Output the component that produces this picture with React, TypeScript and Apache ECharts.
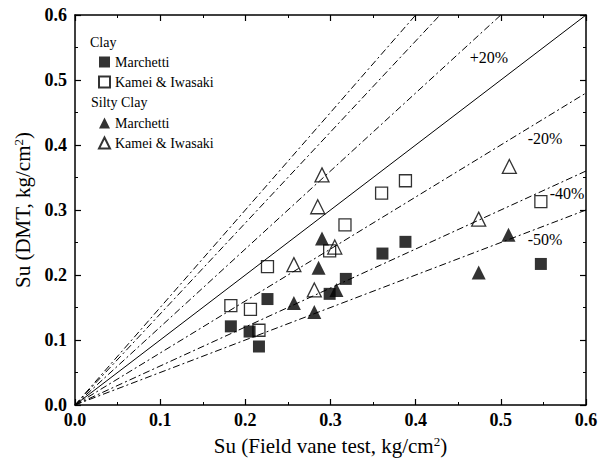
import React, { useEffect, useRef } from 'react';
import * as echarts from 'echarts';

// Clay – Marchetti (filled squares)
const clayMarchetti: number[][] = [
  [0.183, 0.121], [0.205, 0.113], [0.216, 0.090], [0.226, 0.163], [0.299, 0.171],
  [0.318, 0.194], [0.361, 0.233], [0.388, 0.251], [0.547, 0.217],
];
// Clay – Kamei & Iwasaki (open squares)
const clayKamei: number[][] = [
  [0.183, 0.153], [0.206, 0.147], [0.216, 0.115], [0.226, 0.213], [0.299, 0.237],
  [0.317, 0.277], [0.360, 0.326], [0.388, 0.345], [0.547, 0.313],
];
// Silty clay – Marchetti (filled triangles)
const siltyMarchetti: number[][] = [
  [0.281, 0.143], [0.257, 0.157], [0.286, 0.211], [0.290, 0.256], [0.307, 0.177],
  [0.474, 0.204], [0.509, 0.262],
];
// Silty clay – Kamei & Iwasaki (open triangles)
const siltyKamei: number[][] = [
  [0.257, 0.216], [0.281, 0.177], [0.285, 0.305], [0.290, 0.354], [0.305, 0.243],
  [0.474, 0.286], [0.510, 0.367],
];

// Reference lines (ratio DMT / field vane)
const refSlopes = [1.5, 1.4, 1.2, 1.0, 0.8, 0.6, 0.5];
const refNames = ['+50%', '+40%', '+20%', '1:1', '-20%', '-40%', '-50%'];
const AXIS_MIN = 0;
const AXIS_MAX = 0.6;
const AXIS_STEP = 0.1;

const FONT = 'Liberation Serif';

export default function App() {
  const ref = useRef<HTMLDivElement>(null);

  useEffect(() => {
    const chart = echarts.init(ref.current!, null, { renderer: 'svg' });

    const lineSeries = refSlopes.map((s, i) => ({
      type: 'line',
      name: refNames[i],
      data: [
        [0, 0],
        [Math.min(AXIS_MAX, AXIS_MAX / s), Math.min(AXIS_MAX, AXIS_MAX * s)],
      ],
      symbol: 'none',
      silent: true,
      z: 1,
      lineStyle: { color: '#000', width: 1, type: s === 1 ? 'solid' : [7, 3, 2, 3] },
    }));

    const filled = { color: '#000' };
    const open = { color: 'rgba(255,255,255,0)', borderColor: '#000', borderWidth: 1.3 };

    const valueAxisCommon = {
      type: 'value',
      min: AXIS_MIN,
      max: AXIS_MAX,
      interval: AXIS_STEP,
      axisLine: { show: true, onZero: false, lineStyle: { color: '#000', width: 1.5 } },
      axisTick: { show: true, inside: true, length: 6, lineStyle: { color: '#000', width: 1.2 } },
      minorTick: { show: true, splitNumber: 2, length: 3, lineStyle: { color: '#000', width: 1 } },
      splitLine: { show: false },
    };

    const labelStyle = {
      color: '#000',
      fontFamily: FONT,
      fontSize: 18,
      fontWeight: 'bold',
      formatter: (v: number) => v.toFixed(1),
    };

    const nameStyle = {
      color: '#000',
      fontFamily: FONT,
      fontSize: 21,
      rich: {
        sup: { fontFamily: FONT, fontSize: 13, color: '#000', verticalAlign: 'top', padding: [0, 0, 8, 0] },
      },
    };

    const legendCommon = {
      orient: 'vertical',
      left: 98,
      padding: 0,
      itemWidth: 11,
      itemHeight: 11,
      itemGap: 6,
      selectedMode: false,
      textStyle: { color: '#000', fontFamily: FONT, fontSize: 14 },
      formatter: (name: string) => name.replace(/^(Silty )?Clay /, ''),
    };

    const txt = (text: string, x: number, y: number, size: number) => ({
      type: 'text',
      x,
      y,
      style: { text, fontFamily: FONT, fontSize: size, fill: '#000', textAlign: 'center', textVerticalAlign: 'middle' },
    });

    chart.setOption({
      animation: false,
      backgroundColor: '#fff',
      grid: { left: 75, right: 19, top: 15, bottom: 60 },
      xAxis: [
        {
          ...valueAxisCommon,
          position: 'bottom',
          name: 'Su (Field vane test, kg/cm{sup|2})',
          nameLocation: 'middle',
          nameGap: 30,
          nameTextStyle: nameStyle,
          axisLabel: { ...labelStyle, margin: 6 },
        },
        {
          ...valueAxisCommon,
          position: 'top',
          axisLabel: { show: false },
        },
      ],
      yAxis: [
        {
          ...valueAxisCommon,
          position: 'left',
          name: 'Su (DMT, kg/cm{sup|2})',
          nameLocation: 'middle',
          nameRotate: 90,
          nameGap: 42,
          nameTextStyle: nameStyle,
          axisLabel: { ...labelStyle, margin: 8 },
        },
        {
          ...valueAxisCommon,
          position: 'right',
          axisLabel: { show: false },
        },
      ],
      legend: [
        {
          ...legendCommon,
          top: 55,
          data: [
            { name: 'Clay Marchetti', icon: 'rect' },
            { name: 'Clay Kamei & Iwasaki', icon: 'rect' },
          ],
        },
        {
          ...legendCommon,
          top: 116,
          data: [
            { name: 'Silty Clay Marchetti', icon: 'triangle' },
            { name: 'Silty Clay Kamei & Iwasaki', icon: 'triangle' },
          ],
        },
      ],
      graphic: [
        { type: 'text', left: 90, top: 35, style: { text: 'Clay', fontFamily: FONT, fontSize: 14, fill: '#000' } },
        { type: 'text', left: 91, top: 95, style: { text: 'Silty Clay', fontFamily: FONT, fontSize: 14, fill: '#000' } },
        txt('+20%', 489, 57, 16),
        txt('-20%', 545, 138, 16),
        txt('-40%', 567, 193, 16),
        txt('-50%', 545, 239, 16),
      ],
      series: [
        ...lineSeries,
        { type: 'scatter', name: 'Clay Marchetti', data: clayMarchetti, symbol: 'rect', symbolSize: 12, itemStyle: filled, z: 3 },
        { type: 'scatter', name: 'Clay Kamei & Iwasaki', data: clayKamei, symbol: 'rect', symbolSize: 12, itemStyle: open, z: 3 },
        { type: 'scatter', name: 'Silty Clay Marchetti', data: siltyMarchetti, symbol: 'triangle', symbolSize: 14, itemStyle: filled, z: 3 },
        { type: 'scatter', name: 'Silty Clay Kamei & Iwasaki', data: siltyKamei, symbol: 'triangle', symbolSize: 14, itemStyle: open, z: 3 },
      ],
    });

    return () => chart.dispose();
  }, []);

  return (
    <div
      ref={ref}
      style={{ position: 'fixed', left: 0, top: 0, width: 605, height: 465, background: '#fff' }}
    />
  );
}
